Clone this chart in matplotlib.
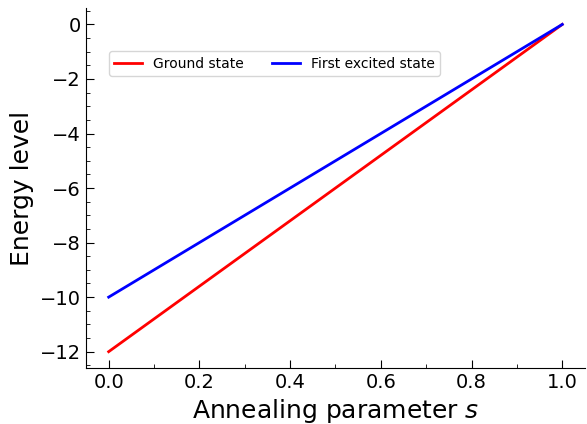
import numpy as np
import matplotlib
matplotlib.use('Agg')
import matplotlib.pyplot as plt
from matplotlib.ticker import AutoMinorLocator

# annealing parameter and energy levels at the end points
s_values = [0.0, 1.0]
ground_state = [-12.0, 0.0]
first_excited = [-10.0, 0.0]

fig = plt.figure(figsize=(5.87, 4.24), dpi=100)
ax = fig.add_axes([0.1465, 0.132, 0.850, 0.849])

ax.plot(s_values, ground_state, color='red', linewidth=2, label='Ground state')
ax.plot(s_values, first_excited, color='blue', linewidth=2, label='First excited state')

ax.set_xlabel('Annealing parameter $s$', fontsize=18)
ax.set_ylabel('Energy level', fontsize=18)

ax.spines['top'].set_visible(False)
ax.spines['right'].set_visible(False)
ax.xaxis.set_minor_locator(AutoMinorLocator(2))
ax.yaxis.set_minor_locator(AutoMinorLocator(4))
ax.tick_params(which='both', direction='in', labelsize=14)
ax.tick_params(which='major', length=6)
ax.tick_params(which='minor', length=3)

ax.legend(ncol=2, fontsize=10, loc='upper left', bbox_to_anchor=(0.032, 0.9))

fig.savefig('out.png', dpi=100)
